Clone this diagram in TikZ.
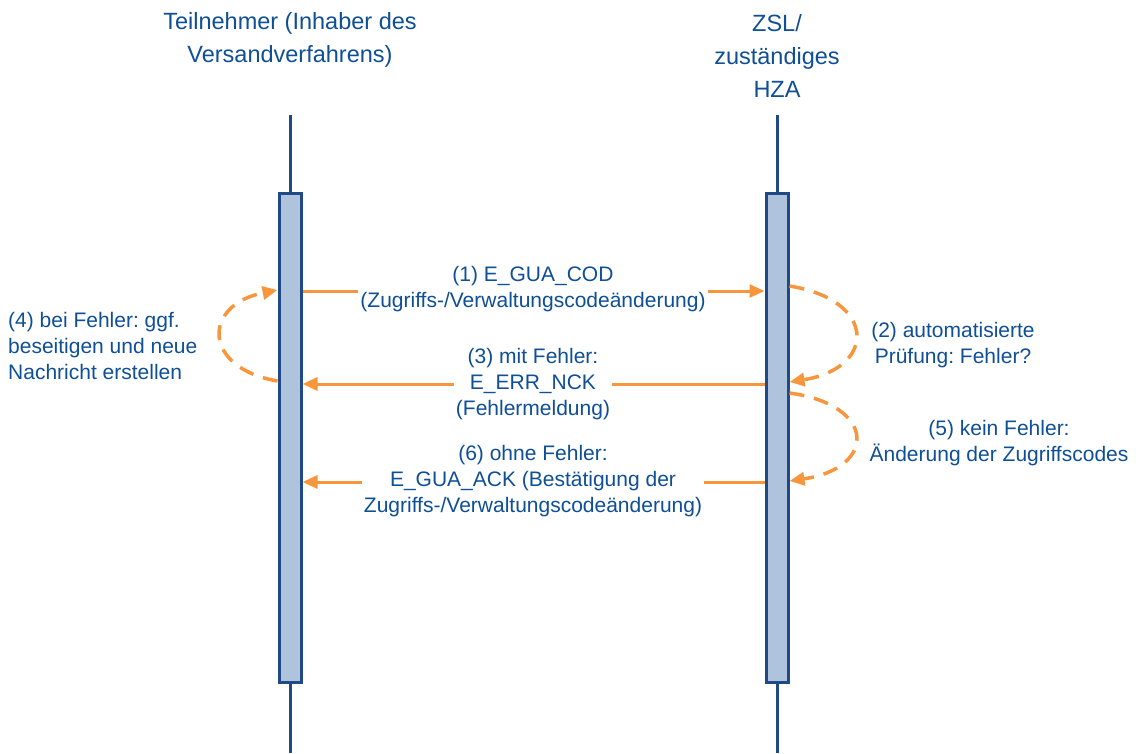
\documentclass[tikz,border=0pt]{standalone}
\usepackage{fontspec}
\setmainfont{Liberation Sans}
\usetikzlibrary{arrows.meta}
\definecolor{txtblue}{HTML}{0F4F96}
\definecolor{lineblue}{HTML}{1F4A86}
\definecolor{barfill}{HTML}{AFC3DD}
\definecolor{arrorange}{HTML}{F7963C}
\tikzset{
  lbl/.style={text=txtblue, font=\fontsize{21}{26}\selectfont\frenchspacing, align=center, inner sep=0pt},
  msglbl/.style={lbl, fill=white, inner xsep=2pt, inner ysep=1pt},
  title/.style={text=txtblue, font=\fontsize{23.5}{33}\selectfont, align=center, inner sep=0pt},
  lifeline/.style={draw=lineblue, line width=3pt},
  bar/.style={draw=lineblue, fill=barfill, line width=3pt, minimum width=22pt, inner sep=0pt},
  msg/.style={draw=arrorange, line width=3pt, -{Triangle[length=15pt,width=13pt]}},
  loop/.style={draw=arrorange, line width=3.5pt, dash pattern=on 15pt off 10pt, -{Triangle[length=15pt,width=13pt]}}
}
\begin{document}
\begin{tikzpicture}[x=1pt,y=-1pt]
\useasboundingbox (0,0) rectangle (1136,753);
% lifelines
\coordinate (lt) at (290,115);
\coordinate (lb) at (290,753);
\coordinate (rt) at (777,115);
\coordinate (rb) at (777,753);
\draw[lifeline] (lt) -- (lb);
\draw[lifeline] (rt) -- (rb);
% bars
\node[bar, minimum height=489pt] (L) at (290,437.5) {};
\node[bar, minimum height=489pt] (R) at (777,437.5) {};
% titles
\node[title] (tl) at (290,40) {Teilnehmer (Inhaber des\\Versandverfahrens)};
\node[title] (tr) at (777,56) {ZSL/\\zuständiges\\HZA};
% message coordinates
\coordinate (m1s) at (L.east |- 0,291);
\coordinate (m1e) at (R.west |- 0,291);
\coordinate (m3s) at (R.west |- 0,384);
\coordinate (m3e) at (L.east |- 0,384);
\coordinate (m6s) at (R.west |- 0,482);
\coordinate (m6e) at (L.east |- 0,482);
% message arrows
\draw[msg] (m1s) -- (m1e);
\draw[msg] (m3s) -- (m3e);
\draw[msg] (m6s) -- (m6e);
% labels
\node[msglbl] (l1) at (533,289) {(1) E\_GUA\_COD\\(Zugriffs-/Verwaltungscodeänderung)};
\node[msglbl] (l3) at (533,384) {(3) mit Fehler:\\E\_ERR\_NCK\\(Fehlermeldung)};
\node[msglbl] (l6) at (533,481) {(6) ohne Fehler:\\E\_GUA\_ACK (Bestätigung der\\Zugriffs-/Verwaltungscodeänderung)};
\node[lbl] (l2) at (953,345) {(2) automatisierte\\Prüfung: Fehler?};
\node[lbl] (l5) at (999,443) {(5) kein Fehler:\\Änderung der Zugriffscodes};
\node[lbl, align=left, anchor=west] (l4) at (8,346) {(4) bei Fehler: ggf.\\beseitigen und neue\\Nachricht erstellen};
% loops
\coordinate (a2s) at (R.east |- 0,286);
\coordinate (a2e) at (R.east |- 0,382);
\coordinate (a5s) at (R.east |- 0,393);
\coordinate (a5e) at (R.east |- 0,481);
\coordinate (a4s) at (L.west |- 0,381);
\coordinate (a4e) at (L.west |- 0,290);
\draw[loop] (a2s) .. controls (877,300) and (877,368) .. (a2e);
\draw[loop] (a5s) .. controls (877,405) and (877,468) .. (a5e);
\draw[loop] (a4s) .. controls (202,368) and (202,305) .. (a4e);
\end{tikzpicture}
\end{document}
